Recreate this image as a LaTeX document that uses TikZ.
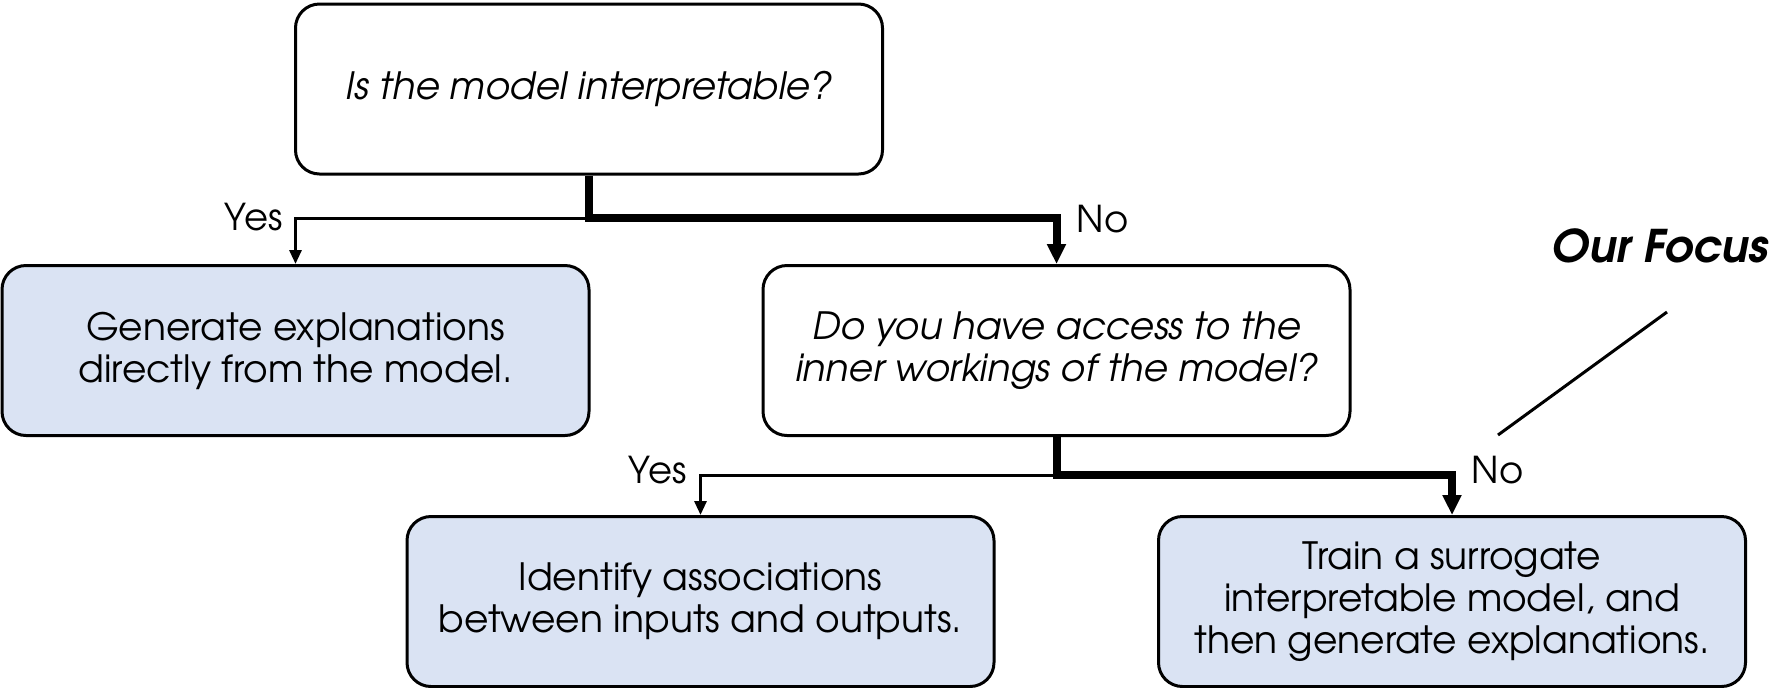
\documentclass[tikz,border=0pt]{standalone}
\usepackage{fontspec}
\setmainfont{texgyreadventor}[Extension=.otf, UprightFont=*-regular, ItalicFont=*-italic, BoldFont=*-bold, BoldItalicFont=*-bolditalic]
\usetikzlibrary{arrows.meta}
\definecolor{boxblue}{HTML}{DAE3F3}
\tikzset{
  box/.style={draw, line width=1.5pt, rounded corners=12pt, minimum width=293.5pt, minimum height=85pt, align=center, inner sep=0pt, font=\fontsize{18.8}{21}\selectfont},
  qbox/.style={box, fill=white, font=\fontsize{18.8}{21}\selectfont\itshape},
  abox/.style={box, fill=boxblue},
  heavy/.style={line width=4pt, line join=miter, -{Triangle[length=10pt,width=9pt]}},
  light/.style={line width=1.5pt, line join=miter, -{Triangle[length=7pt,width=6pt]}},
  lbl/.style={inner sep=0pt, font=\fontsize{18.5}{20}\selectfont},
}
\begin{document}
\begin{tikzpicture}[x=0.5pt,y=-0.5pt]
\useasboundingbox (0,0) rectangle (1772,687);
\node[qbox] (A) at (589,89) {Is the model interpretable?};
\node[abox] (B) at (295.5,350.5) {Generate explanations\\directly from the model.};
\node[qbox] (C) at (1056.5,350.5) {Do you have access to the\\inner workings of the model?};
\node[abox] (D) at (700.5,601.5) {Identify associations\\between inputs and outputs.};
\node[abox] (E) at (1452,601.5) {Train a surrogate\\interpretable model, and\\then generate explanations.};
\coordinate (s1) at (589,218);
\coordinate (s2) at (1056.5,475);
\draw[light] (s1) -| (B.north);
\draw[heavy] (A.south) -- (s1) -| (C.north);
\draw[light] (s2) -| (D.north);
\draw[heavy] (C.south) -- (s2) -| (E.north);
\node[lbl, anchor=base east] (y1) at (283,230) {Yes};
\node[lbl, anchor=base west] (n1) at (1076,232) {No};
\node[lbl, anchor=base east] (y2) at (687,483) {Yes};
\node[lbl, anchor=base west] (n2) at (1471,483) {No};
\node[inner sep=0pt, anchor=base east, font=\fontsize{22.5}{24}\selectfont\bfseries\itshape] (F) at (1769,262) {Our Focus};
\coordinate (l1) at (1667,312);
\coordinate (l2) at (1498,435);
\draw[line width=1.5pt] (l1) -- (l2);
\end{tikzpicture}
\end{document}
